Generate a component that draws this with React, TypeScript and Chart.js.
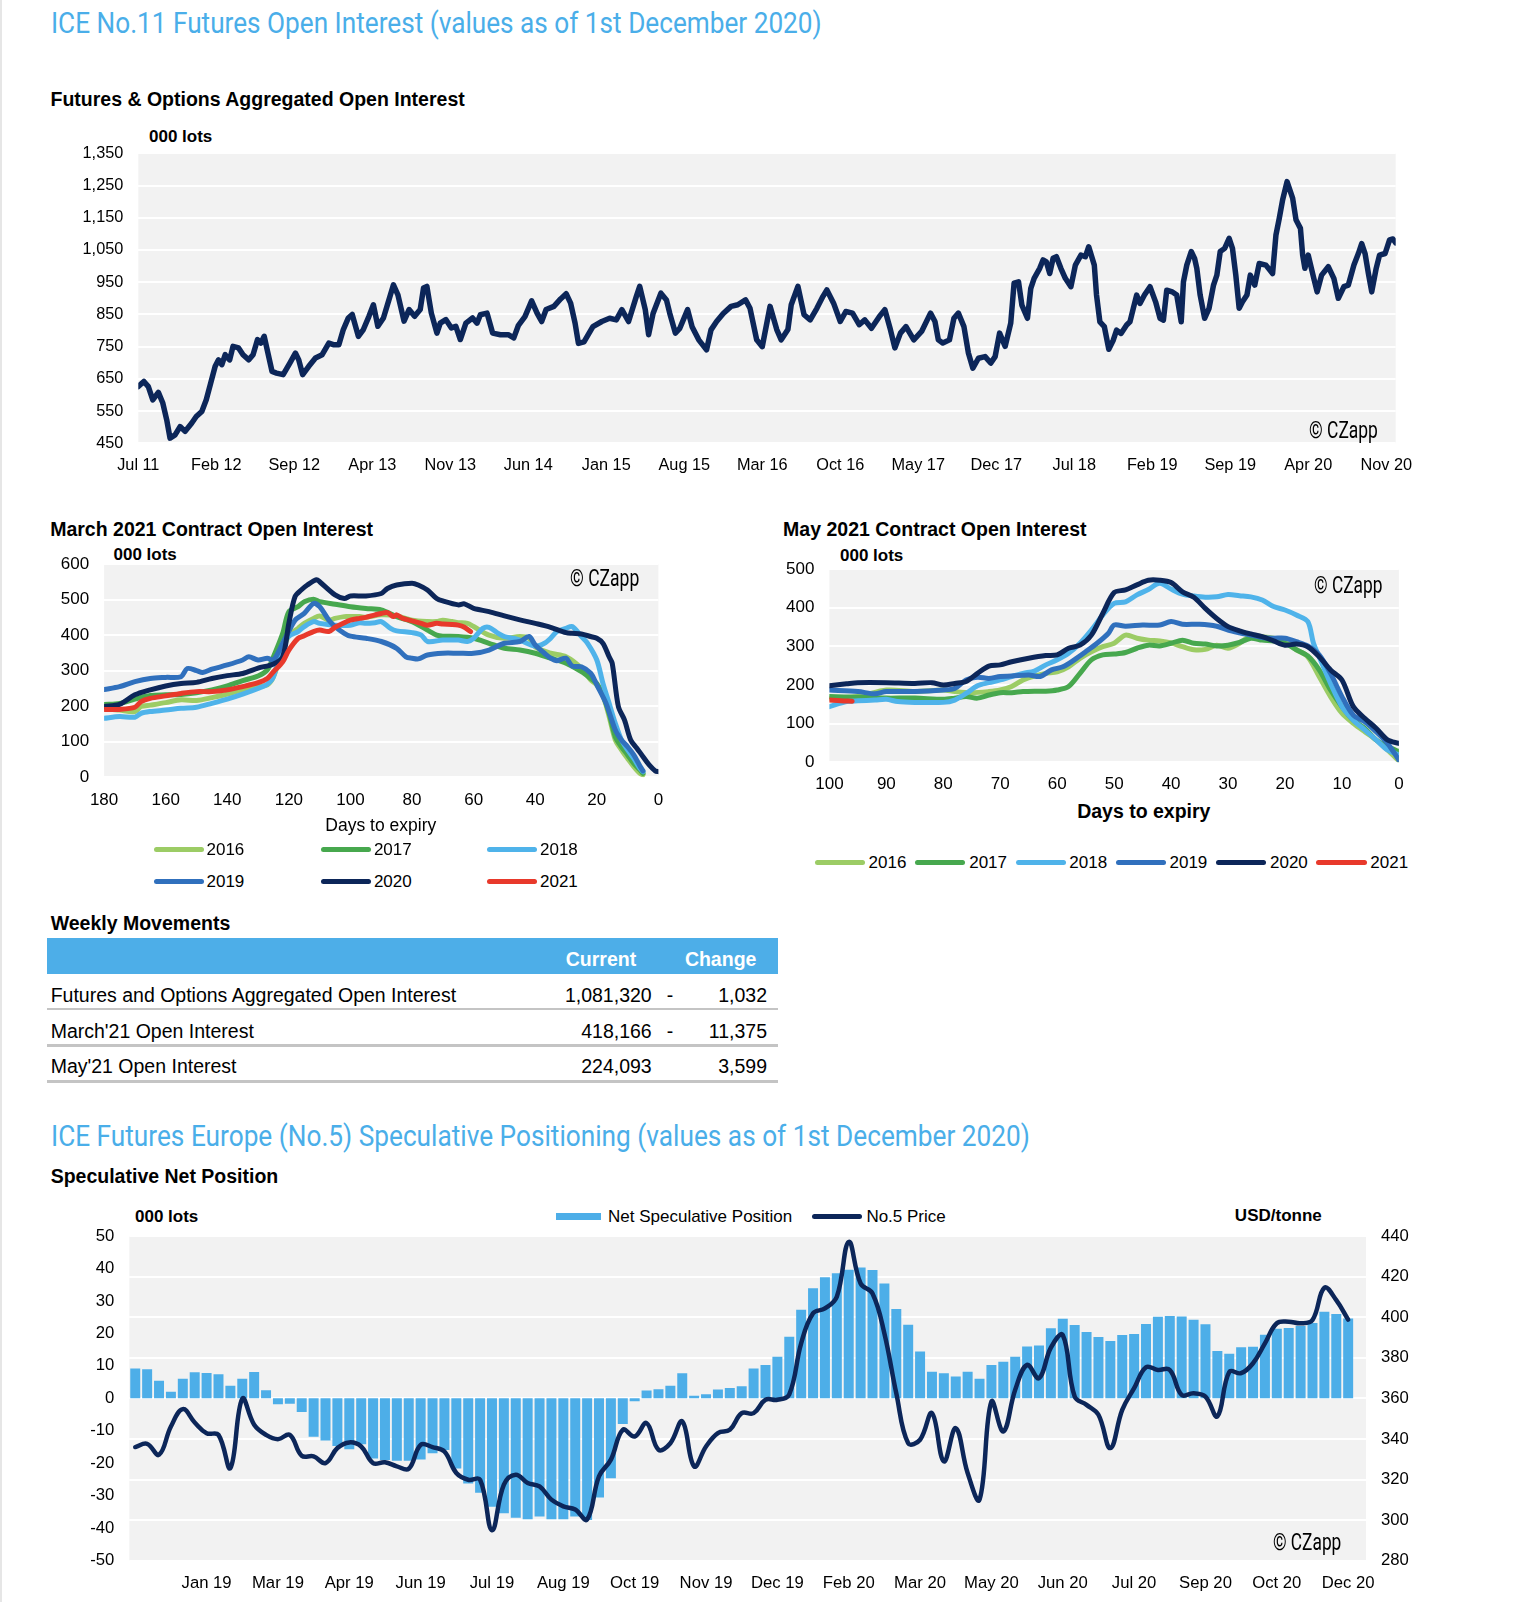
import React, { useEffect, useLayoutEffect, useRef, useState } from 'react';
import { Chart, registerables } from 'chart.js';

Chart.register(...registerables);

const FONT = '"Liberation Sans", Arial, Helvetica, sans-serif';
const COND = 'Roboto, "Liberation Sans", sans-serif';
const NAVY = '#0c2659';
const BAR_BLUE = '#4daee8';
const TITLE_BLUE = '#4aaee9';
const PLOT_BG = '#f2f2f2';

Chart.defaults.font.family = FONT;
Chart.defaults.color = '#000';

// ---------- Chart 1: Futures & Options Aggregated Open Interest ----------
const oiTickLabels = ['Jul 11', 'Feb 12', 'Sep 12', 'Apr 13', 'Nov 13', 'Jun 14', 'Jan 15', 'Aug 15', 'Mar 16', 'Oct 16', 'May 17', 'Dec 17', 'Jul 18', 'Feb 19', 'Sep 19', 'Apr 20', 'Nov 20'];
// months since Jul 2011
const oiMonths = [
  0, 0.5, 0.9, 1.3, 1.8, 2.2, 2.55, 2.85, 3.3, 3.75, 4.2, 4.8, 5.2, 5.7, 6.1, 6.5, 6.9, 7.2, 7.5, 7.8,
  8.2, 8.5, 9.0, 9.4, 9.9, 10.3, 10.7, 11.0, 11.3, 11.7, 12.0, 12.4, 13.0, 13.6, 14.1, 14.4, 14.75, 15.3, 15.9, 16.5,
  17.1, 17.5, 18.0, 18.4, 18.85, 19.2, 19.75, 20.2, 20.7, 21.1, 21.5, 22.0, 22.5, 22.9, 23.3, 23.85, 24.3, 24.8, 25.3, 25.6,
  25.9, 26.3, 26.8, 27.1, 27.6, 28.1, 28.5, 28.9, 29.4, 30.0, 30.4, 30.7, 31.3, 31.8, 32.5, 33.2, 33.7, 34.1, 34.7, 35.3,
  35.8, 36.2, 36.6, 37.3, 37.9, 38.4, 38.8, 39.2, 39.5, 40.0, 40.8, 41.6, 42.3, 42.9, 43.4, 44.0, 44.7, 45.0, 45.5, 45.8,
  46.2, 46.9, 47.4, 47.7, 48.2, 48.6, 49.3, 49.7, 50.3, 51.0, 51.4, 51.9, 52.5, 53.2, 53.8, 54.5, 54.9, 55.5, 56.0, 56.7,
  57.3, 57.7, 58.3, 58.6, 59.2, 59.75, 60.3, 60.9, 61.45, 61.8, 62.4, 63.0, 63.5, 64.1, 64.7, 65.2, 65.8, 66.5, 67.0, 67.5,
  67.9, 68.4, 68.9, 69.6, 70.3, 71.1, 71.5, 71.8, 72.2, 72.8, 73.2, 73.6, 74.1, 74.5, 74.9, 75.4, 76.0, 76.5, 76.9, 77.3,
  77.8, 78.3, 78.6, 79.0, 79.3, 79.8, 80.1, 80.4, 80.9, 81.2, 81.5, 81.8, 82.1, 82.4, 82.8, 83.2, 83.7, 84.1, 84.6, 85.0,
  85.3, 85.8, 86.0, 86.3, 86.7, 87.1, 87.5, 87.8, 88.2, 88.7, 89.0, 89.3, 89.6, 89.9, 90.3, 90.8, 91.3, 91.7, 92.0, 92.3,
  92.8, 93.2, 93.6, 93.8, 94.1, 94.5, 94.8, 95.0, 95.3, 95.7, 96.1, 96.5, 96.8, 97.1, 97.5, 97.9, 98.2, 98.5, 98.8, 99.1,
  99.5, 99.8, 100.2, 100.6, 101.2, 101.8, 102.1, 102.4, 102.7, 103.1, 103.6, 103.9, 104.3, 104.5, 104.7, 105.0, 105.5, 105.8, 106.2, 106.8,
  107.3, 107.7, 108.2, 108.6, 109.1, 109.5, 109.8, 110.1, 110.4, 110.7, 111.1, 111.4, 111.9, 112.3, 112.6, 112.85,
];
const oiValues = [
  626, 642, 626, 585, 608, 575, 523, 466, 476, 502, 487, 513, 533, 549, 585, 637, 689, 709, 694, 725,
  709, 751, 746, 725, 709, 725, 772, 761, 782, 720, 673, 668, 663, 699, 730, 709, 663, 689, 715, 725,
  761, 756, 756, 803, 839, 850, 782, 803, 844, 880, 813, 839, 896, 942, 911, 829, 865, 844, 865, 932,
  937, 854, 792, 823, 834, 808, 813, 772, 823, 839, 823, 849, 854, 792, 787, 787, 777, 815, 843, 892,
  853, 828, 865, 875, 898, 914, 885, 823, 760, 765, 812, 828, 838, 833, 865, 828, 906, 937, 865, 787,
  853, 916, 895, 853, 792, 807, 865, 812, 771, 740, 802, 828, 853, 875, 880, 895, 869, 771, 750, 875,
  803, 771, 803, 880, 937, 849, 833, 869, 906, 926, 885, 828, 859, 854, 818, 833, 807, 843, 865, 803,
  746, 792, 812, 771, 797, 854, 828, 771, 761, 771, 838, 854, 812, 730, 683, 714, 719, 699, 719, 792,
  751, 823, 947, 951, 879, 838, 931, 962, 993, 1019, 1013, 977, 1024, 1029, 993, 962, 936, 1003, 1034, 1029,
  1060, 1003, 910, 827, 812, 742, 770, 801, 791, 817, 827, 869, 910, 884, 910, 936, 889, 838, 832, 925,
  920, 910, 827, 951, 1003, 1045, 1024, 993, 910, 838, 869, 941, 972, 1045, 1055, 1086, 1055, 972, 869, 889,
  910, 972, 941, 1008, 1003, 977, 1096, 1148, 1205, 1262, 1211, 1144, 1117, 1034, 993, 1034, 962, 920, 972, 998,
  962, 900, 936, 941, 1003, 1039, 1070, 1039, 977, 920, 993, 1034, 1039, 1081, 1084, 1072,
];

// ---------- Chart 2: March 2021 contract (days to expiry, 000 lots) ----------
const march2016: number[][] = [[180,194],[175,189],[170,185],[168,199],[165,203],[160,210],[155,218],[150,216],[145,224],[140,234],[135,246],[130,255],[127,260],[125,283],[122,358],[120,399],[117,419],[115,433],[112,447],[110,454],[107,442],[105,447],[102,452],[100,452],[97,452],[95,450],[90,457],[85,454],[80,442],[75,438],[72,438],[70,442],[67,438],[65,435],[62,433],[60,424],[55,400],[50,391],[45,396],[42,391],[40,367],[35,349],[30,339],[25,307],[22,274],[20,260],[18,230],[16,171],[14,105],[12,77],[10,53],[8,30],[6,11],[5,7]];
const march2017: number[][] = [[180,205],[175,208],[170,220],[165,230],[160,232],[155,233],[150,238],[145,246],[140,257],[135,272],[130,285],[127,302],[125,339],[122,405],[120,466],[117,480],[115,494],[112,501],[110,494],[105,487],[100,480],[95,475],[90,471],[85,452],[80,438],[75,414],[72,400],[70,397],[65,396],[60,391],[55,377],[50,363],[45,358],[40,349],[35,335],[30,321],[25,297],[22,278],[20,264],[18,232],[16,180],[14,114],[12,86],[10,63],[8,39],[6,21],[5,11]];
const march2018: number[][] = [[180,166],[175,171],[170,169],[168,180],[165,185],[160,189],[155,194],[150,197],[145,208],[140,220],[135,234],[130,250],[127,262],[125,283],[122,377],[120,397],[117,410],[115,424],[112,438],[110,433],[105,428],[100,428],[97,435],[95,433],[92,435],[90,438],[87,419],[85,412],[80,407],[77,400],[75,382],[70,386],[65,386],[62,382],[60,391],[57,419],[55,422],[52,405],[50,396],[47,391],[45,386],[40,369],[37,377],[35,391],[33,410],[30,419],[28,424],[25,396],[23,377],[20,330],[18,264],[16,208],[14,152],[12,105],[10,77],[8,53],[6,25],[5,16]];
const march2019: number[][] = [[180,247],[175,255],[170,269],[165,278],[160,281],[155,283],[153,306],[150,300],[148,295],[145,304],[140,316],[135,330],[133,339],[130,330],[127,335],[125,330],[122,377],[118,442],[115,461],[112,489],[110,480],[107,442],[105,424],[102,405],[100,397],[95,391],[90,382],[85,363],[82,339],[80,335],[78,333],[75,344],[70,349],[65,349],[60,349],[55,358],[50,377],[45,382],[42,396],[40,372],[37,349],[35,335],[33,328],[30,335],[28,313],[25,311],[22,293],[20,260],[17,208],[14,133],[12,105],[10,86],[8,63],[6,32],[5,18]];
const march2020: number[][] = [[180,199],[175,205],[170,232],[165,246],[160,257],[155,264],[150,267],[145,278],[140,286],[135,292],[130,307],[125,319],[122,339],[120,433],[118,508],[116,527],[114,541],[111,556],[110,550],[105,513],[102,503],[100,510],[95,510],[90,517],[88,531],[85,541],[80,546],[78,541],[75,527],[72,503],[70,496],[65,485],[63,488],[60,475],[55,466],[50,454],[45,443],[40,433],[35,422],[30,407],[28,405],[25,403],[22,396],[20,391],[18,377],[16,339],[15,321],[13,199],[11,161],[9,105],[7,82],[5,58],[3,35],[1,18],[0,16]];
const march2021: number[][] = [[180,191],[175,191],[170,197],[168,213],[165,222],[160,229],[155,236],[150,241],[145,241],[140,246],[135,255],[130,266],[127,278],[125,297],[122,325],[120,358],[117,391],[115,398],[112,410],[110,414],[107,410],[105,422],[102,435],[100,442],[97,447],[95,450],[92,457],[90,461],[88,463],[86,452],[85,457],[83,447],[80,440],[77,433],[75,428],[72,433],[70,431],[67,430],[65,428],[63,422],[61,410]];

// ---------- Chart 3: May 2021 contract ----------
const may2016: number[][] = [[100,166],[95,170],[90,187],[85,183],[80,187],[78,183],[75,180],[72,183],[70,187],[68,196],[66,213],[64,223],[62,230],[60,234],[58,247],[56,269],[54,286],[52,299],[50,308],[48,329],[46,321],[44,316],[42,314],[40,309],[38,299],[36,291],[34,292],[32,303],[30,295],[28,308],[26,327],[24,325],[22,321],[20,312],[18,291],[16,273],[14,222],[12,170],[10,127],[8,101],[6,79],[4,58],[2,32],[0,4]];
const may2017: number[][] = [[100,170],[95,168],[90,166],[85,166],[80,163],[78,166],[76,170],[74,166],[72,174],[70,180],[68,180],[66,183],[64,184],[62,184],[60,187],[58,196],[56,230],[54,265],[52,278],[50,280],[48,284],[46,295],[44,303],[42,301],[40,308],[38,316],[36,308],[34,306],[32,301],[30,303],[28,310],[26,321],[24,316],[22,314],[20,308],[18,291],[16,275],[14,239],[12,187],[10,144],[8,109],[6,88],[4,58],[2,41],[0,28]];
const may2018: number[][] = [[100,144],[97,157],[95,159],[92,161],[90,163],[88,157],[85,155],[80,155],[78,161],[76,178],[74,198],[72,206],[70,213],[68,222],[66,230],[64,236],[62,252],[60,265],[58,282],[56,308],[54,342],[52,381],[50,411],[48,415],[46,433],[44,447],[42,463],[40,448],[38,435],[36,430],[34,427],[32,428],[30,434],[28,431],[26,428],[24,420],[22,403],[20,394],[18,381],[16,364],[15,308],[14,273],[12,204],[10,144],[8,109],[6,84],[4,58],[2,32],[0,19]];
const may2019: number[][] = [[100,187],[95,183],[92,177],[90,183],[85,183],[80,187],[78,191],[76,213],[74,220],[72,217],[70,222],[68,223],[65,226],[63,222],[61,239],[59,247],[57,265],[55,286],[53,308],[51,334],[50,355],[48,352],[45,355],[42,355],[40,364],[38,357],[35,357],[32,352],[30,342],[28,335],[26,329],[24,323],[22,321],[20,321],[18,312],[16,301],[14,278],[12,230],[10,170],[8,122],[6,105],[4,79],[2,49],[0,6]];
const may2020: number[][] = [[100,198],[97,203],[95,206],[90,206],[85,204],[82,206],[80,200],[78,204],[76,209],[74,230],[72,249],[70,252],[68,260],[65,269],[62,276],[60,278],[58,295],[56,303],[54,329],[52,385],[50,439],[48,446],[46,459],[44,471],[42,471],[40,465],[38,441],[36,427],[34,398],[32,372],[30,351],[28,340],[26,332],[24,325],[22,314],[20,303],[18,306],[16,299],[14,273],[12,239],[10,213],[8,144],[6,114],[4,88],[2,58],[0,49]];
const may2021: number[][] = [[100,161],[98,159],[96,158]];

// ---------- Weekly movements table ----------
const weeklyLabels = ['Futures and Options Aggregated Open Interest', "March'21 Open Interest", "May'21 Open Interest"];
const weeklyCurrent = ['1,081,320', '418,166', '224,093'];
const weeklySign = ['-', '-', ''];
const weeklyChange = ['1,032', '11,375', '3,599'];

// ---------- Chart 4: ICE No.5 speculative positioning (weekly) ----------
const specTicks: [number, string][] = [[6, 'Jan 19'], [12, 'Mar 19'], [18, 'Apr 19'], [24, 'Jun 19'], [30, 'Jul 19'], [36, 'Aug 19'], [42, 'Oct 19'], [48, 'Nov 19'], [54, 'Dec 19'], [60, 'Feb 20'], [66, 'Mar 20'], [72, 'May 20'], [78, 'Jun 20'], [84, 'Jul 20'], [90, 'Sep 20'], [96, 'Oct 20'], [102, 'Dec 20']];
const netSpec = [
  9.2, 9.0, 5.4, 2.0, 6.0, 8.0, 7.8, 7.4, 3.9, 6.0, 8.1, 2.5, -1.8, -1.7, -4.2, -11.8, -13.0, -14.7, -15.7, -14.1,
  -18.5, -19.0, -19.2, -19.2, -18.8, -16.9, -15.9, -21.6, -26.2, -29.1, -33.4, -35.4, -36.8, -37.2, -36.4, -37.2, -37.2, -36.4, -37.5, -30.5,
  -24.6, -7.9, -0.9, 2.4, 2.8, 3.9, 7.7, 0.8, 1.3, 2.7, 3.2, 3.7, 9.2, 10.3, 12.8, 19.0, 27.3, 33.9, 37.3, 38.5,
  39.6, 40.3, 39.5, 35.4, 27.5, 22.7, 14.4, 8.2, 7.7, 6.7, 8.2, 6.0, 10.3, 11.3, 12.8, 16.0, 16.3, 21.6, 24.5, 22.6,
  20.4, 18.9, 17.7, 19.5, 19.8, 22.9, 25.1, 25.4, 25.2, 24.2, 22.8, 14.6, 13.7, 15.7, 15.9, 19.6, 21.4, 21.7, 22.3, 23.2,
  26.7, 26.0, 24.6, null,
];
const no5Price = [
  336.0, 337.6, 332.2, 346.1, 354.7, 348.1, 342.8, 342.0, 325.7, 359.8, 347.0, 342.0, 339.9, 342.0, 331.7, 331.4, 328.1, 335.5, 338.3, 336.3,
  328.1, 328.5, 326.5, 325.3, 337.1, 336.0, 333.8, 323.2, 319.9, 319.9, 295.0, 317.5, 322.4, 318.3, 316.6, 310.1, 306.8, 305.2, 300.3, 321.6,
  329.8, 344.5, 341.2, 347.8, 334.7, 337.9, 348.6, 326.5, 336.3, 342.9, 344.5, 352.7, 352.7, 359.3, 359.3, 362.0, 387.1, 401.9, 404.3, 410.1,
  437.1, 416.6, 411.7, 392.0, 362.5, 337.9, 339.6, 352.7, 328.9, 345.3, 323.2, 310.1, 358.4, 343.7, 364.2, 376.5, 369.9, 385.0, 391.2, 360.9,
  356.8, 351.9, 335.5, 354.3, 365.0, 375.3, 374.0, 374.0, 361.7, 362.5, 360.9, 351.1, 373.0, 372.4, 377.3, 387.1, 397.0, 397.8, 397.0, 398.6,
  414.5, 408.4, 398.8, null,
];

const SERIES_COLORS: Record<string, string> = {
  '2016': '#9ccc65',
  '2017': '#47a84e',
  '2018': '#4fb3ea',
  '2019': '#3070bd',
  '2020': NAVY,
  '2021': '#e8392b',
};

const bgPlugin = {
  id: 'plotBg',
  beforeDraw(chart: any) {
    const { ctx, chartArea: a } = chart;
    ctx.save();
    ctx.fillStyle = PLOT_BG;
    ctx.fillRect(a.left, a.top, a.right - a.left, a.bottom - a.top);
    ctx.restore();
  },
};

function ChartBox({ left, top, width, height, make }: { left: number; top: number; width: number; height: number; make: () => any }) {
  const ref = useRef<HTMLCanvasElement>(null);
  useEffect(() => {
    const chart = new Chart(ref.current as HTMLCanvasElement, make());
    return () => chart.destroy();
  }, []);
  return (
    <div style={{ position: 'absolute', left, top, width, height }}>
      <canvas ref={ref} width={width} height={height} style={{ width, height, display: 'block' }} />
    </div>
  );
}

function Txt({ x, cy, size, bold, color = '#000', align = 'left', children }: any) {
  const tx = align === 'left' ? '0' : align === 'right' ? '-100%' : '-50%';
  return (
    <div style={{ position: 'absolute', left: x, top: cy - size * 0.5, fontFamily: FONT, fontSize: size, fontWeight: bold ? 700 : 400, color, lineHeight: `${size}px`, whiteSpace: 'nowrap', transform: `translateX(${tx})` }}>
      {children}
    </div>
  );
}

function Squeeze({ x, baseline, size, width, color = '#000', anchor = 'left', children }: any) {
  const ref = useRef<HTMLDivElement>(null);
  const [s, setS] = useState(1);
  useLayoutEffect(() => {
    const w = ref.current ? ref.current.offsetWidth : 0;
    if (w) setS(width / w);
  }, []);
  const left = anchor === 'right' ? x - width : x;
  return (
    <div ref={ref} style={{ position: 'absolute', left, top: baseline - 0.842 * size, fontFamily: COND, fontSize: size, color, lineHeight: `${size}px`, whiteSpace: 'nowrap', transform: `scaleX(${s})`, transformOrigin: 'left center' }}>
      {children}
    </div>
  );
}

function Swatch({ x, cy, w, h = 5, color, round = true }: any) {
  return <div style={{ position: 'absolute', left: x, top: cy - h / 2, width: w, height: h, background: color, borderRadius: round ? h / 2 : 0 }} />;
}

const gridWhite = { color: '#ffffff', lineWidth: 2, drawTicks: false };
const noGrid = { display: false, drawTicks: false };
const fitY = (w: number) => (s: any) => { s.width = w; s.paddingTop = 0; s.paddingBottom = 0; };
const fitX = (h: number) => (s: any) => { s.height = h; s.paddingLeft = 0; s.paddingRight = 0; };

function makeOiChart() {
  return {
    type: 'line',
    data: {
      datasets: [{
        data: oiMonths.map((m, i) => ({ x: m, y: oiValues[i] })),
        borderColor: NAVY, borderWidth: 5.5, pointRadius: 0, tension: 0, borderJoinStyle: 'round', borderCapStyle: 'round',
      }],
    },
    options: {
      animation: false, responsive: false,
      layout: { padding: { top: 13.3, right: 44.3, left: 0, bottom: 0 } },
      plugins: { legend: { display: false }, tooltip: { enabled: false } },
      scales: {
        x: {
          type: 'linear', min: 0, max: 112.85,
          grid: noGrid, border: { display: false },
          afterBuildTicks: (axis: any) => { axis.ticks = oiTickLabels.map((_, i) => ({ value: i * 7 })); },
          ticks: { autoSkip: false, maxRotation: 0, padding: 12, font: { size: 16.3 }, color: '#000', callback: (_v: any, i: number) => oiTickLabels[i] },
          afterFit: fitX(36.7),
        },
        y: {
          min: 450, max: 1350,
          grid: gridWhite, border: { display: false },
          ticks: { stepSize: 100, padding: 15, font: { size: 16.3 }, color: '#000', callback: (v: number) => v.toLocaleString('en-US') },
          afterFit: fitY(98.3),
        },
      },
    },
    plugins: [bgPlugin],
  };
}

function expiryChart(series: [string, number[][]][], maxDay: number, step: number, maxY: number, pad: any, yW: number, xH: number, tickPad: number) {
  const order: Record<string, number> = { '2021': 0, '2020': 1, '2019': 2, '2018': 3, '2017': 4, '2016': 5 };
  return {
    type: 'line',
    data: {
      datasets: series.map(([name, pts]) => ({
        label: name,
        data: pts.map(([d, v]) => ({ x: d, y: v })),
        borderColor: SERIES_COLORS[name], borderWidth: 5, pointRadius: 0, tension: 0.3,
        borderJoinStyle: 'round', borderCapStyle: 'round', order: order[name],
      })),
    },
    options: {
      animation: false, responsive: false,
      layout: { padding: pad },
      plugins: { legend: { display: false }, tooltip: { enabled: false } },
      scales: {
        x: {
          type: 'linear', min: 0, max: maxDay, reverse: true,
          grid: noGrid, border: { display: false },
          ticks: { stepSize: step, maxRotation: 0, padding: tickPad, font: { size: 17 }, color: '#000' },
          afterFit: fitX(xH),
        },
        y: {
          min: 0, max: maxY,
          grid: gridWhite, border: { display: false },
          ticks: { stepSize: 100, padding: 15, font: { size: 17 }, color: '#000' },
          afterFit: fitY(yW),
        },
      },
    },
    plugins: [bgPlugin],
  };
}

function makeSpecChart() {
  const labels = netSpec.map((_, i) => String(i));
  const tickMap = new Map(specTicks);
  return {
    type: 'bar',
    data: {
      labels,
      datasets: [
        { type: 'line', label: 'No.5 Price', data: no5Price, yAxisID: 'y1', borderColor: NAVY, borderWidth: 4.5, pointRadius: 0, tension: 0.4, order: 0, borderJoinStyle: 'round', borderCapStyle: 'round' },
        { type: 'bar', label: 'Net Speculative Position', data: netSpec, yAxisID: 'y', backgroundColor: BAR_BLUE, barPercentage: 0.84, categoryPercentage: 1, order: 1 },
      ],
    },
    options: {
      animation: false, responsive: false,
      layout: { padding: { top: 11, right: 0, left: 0, bottom: 0 } },
      plugins: { legend: { display: false }, tooltip: { enabled: false } },
      scales: {
        x: {
          grid: noGrid, border: { display: false },
          ticks: { autoSkip: false, maxRotation: 0, minRotation: 0, padding: 12.6, font: { size: 16.7 }, color: '#000', callback: (_v: any, i: number) => tickMap.get(i) || '' },
          afterFit: fitX(41.3),
        },
        y: {
          position: 'left', min: -50, max: 50,
          grid: { display: false, drawTicks: false }, border: { display: false },
          ticks: { stepSize: 10, padding: 15, font: { size: 16.7 }, color: '#000' },
          afterFit: fitY(89.3),
        },
        y1: {
          position: 'right', min: 280, max: 440,
          grid: gridWhite, border: { display: false },
          ticks: { stepSize: 20, padding: 15, font: { size: 16.7 }, color: '#000' },
          afterFit: fitY(74),
        },
      },
    },
    plugins: [bgPlugin],
  };
}

const marchSeries: [string, number[][]][] = [['2016', march2016], ['2017', march2017], ['2018', march2018], ['2019', march2019], ['2020', march2020], ['2021', march2021]];
const maySeries: [string, number[][]][] = [['2016', may2016], ['2017', may2017], ['2018', may2018], ['2019', may2019], ['2020', may2020], ['2021', may2021]];

export default function App() {
  const years = ['2016', '2017', '2018', '2019', '2020', '2021'];
  const mLegX = [153.5, 320.8, 487];
  const mLegTx = [206.5, 373.9, 540];
  const yLegX = [814.7, 914.9, 1015.5, 1115.6, 1215.8, 1316.4];
  const yLegTx = [868.6, 969.2, 1069.3, 1169.5, 1270, 1370.3];
  const rowCy = [995.7, 1031.7, 1066.7];
  const sepY = [1009, 1045.7, 1081.7];
  return (
    <div style={{ position: 'absolute', left: 0, top: 0, width: 1540, height: 1602, background: '#fff', overflow: 'hidden', fontFamily: FONT }}>
      <div style={{ position: 'absolute', left: 0, top: 0, width: 2, height: 1602, background: '#e6e6e6' }} />

      <Squeeze x={50.5} baseline={33.3} size={30} width={770.5} color={TITLE_BLUE}>ICE No.11 Futures Open Interest (values as of 1st December 2020)</Squeeze>
      <Txt x={50.5} cy={100} size={19.5} bold>Futures &amp; Options Aggregated Open Interest</Txt>
      <Txt x={149} cy={136.7} size={17} bold>000 lots</Txt>
      <ChartBox left={40} top={140} width={1400} height={340} make={makeOiChart} />
      <Squeeze x={1378.3} baseline={438.3} size={23} width={69} anchor="right">© CZapp</Squeeze>

      <Txt x={50.2} cy={529.3} size={19.5} bold>March 2021 Contract Open Interest</Txt>
      <Txt x={113.5} cy={554.3} size={17} bold>000 lots</Txt>
      <ChartBox left={40} top={545} width={640} height={275} make={() => expiryChart(marchSeries, 180, 20, 600, { top: 19, right: 21.6, left: 0, bottom: 0 }, 64.1, 42.7, 13.2)} />
      <Squeeze x={639.2} baseline={586.7} size={23} width={69.4} anchor="right">© CZapp</Squeeze>
      <Txt x={380.8} cy={826} size={17.5} align="center">Days to expiry</Txt>
      {years.map((y, i) => {
        const col = i % 3;
        const cy = i < 3 ? 849.3 : 881.7;
        return (
          <React.Fragment key={'m' + y}>
            <Swatch x={mLegX[col]} cy={cy} w={50} color={SERIES_COLORS[y]} />
            <Txt x={mLegTx[col]} cy={cy} size={17}>{y}</Txt>
          </React.Fragment>
        );
      })}

      <Txt x={783.1} cy={529.3} size={19.5} bold>May 2021 Contract Open Interest</Txt>
      <Txt x={840} cy={555} size={17} bold>000 lots</Txt>
      <ChartBox left={760} top={550} width={680} height={250} make={() => expiryChart(maySeries, 100, 10, 500, { top: 19, right: 41.1, left: 0, bottom: 0 }, 69.4, 37.7, 11.5)} />
      <Squeeze x={1382} baseline={593.3} size={23} width={68.5} anchor="right">© CZapp</Squeeze>
      <Txt x={1143.8} cy={811.7} size={19.5} bold align="center">Days to expiry</Txt>
      {years.map((y, i) => (
        <React.Fragment key={'y' + y}>
          <Swatch x={yLegX[i]} cy={862.7} w={50.5} color={SERIES_COLORS[y]} />
          <Txt x={yLegTx[i]} cy={862.7} size={17}>{y}</Txt>
        </React.Fragment>
      ))}

      <Txt x={50.7} cy={924} size={19.5} bold>Weekly Movements</Txt>
      <div style={{ position: 'absolute', left: 47.3, top: 938.3, width: 730.5, height: 35.7, background: BAR_BLUE }} />
      <Txt x={636.2} cy={959.3} size={19.5} bold color="#fff" align="right">Current</Txt>
      <Txt x={756.4} cy={959.3} size={19.5} bold color="#fff" align="right">Change</Txt>
      {weeklyLabels.map((lab, i) => (
        <React.Fragment key={lab}>
          <Txt x={50.7} cy={rowCy[i]} size={19.5}>{lab}</Txt>
          <Txt x={651.7} cy={rowCy[i]} size={19.5} align="right">{weeklyCurrent[i]}</Txt>
          {weeklySign[i] ? <Txt x={670} cy={rowCy[i]} size={19.5} align="center">{weeklySign[i]}</Txt> : null}
          <Txt x={767} cy={rowCy[i]} size={19.5} align="right">{weeklyChange[i]}</Txt>
          <div style={{ position: 'absolute', left: 47.3, top: sepY[i] - 1.25, width: 730.5, height: 2.5, background: '#c4c4c4' }} />
        </React.Fragment>
      ))}

      <Squeeze x={50.7} baseline={1146.7} size={30} width={979} color={TITLE_BLUE}>ICE Futures Europe (No.5) Speculative Positioning (values as of 1st December 2020)</Squeeze>
      <Txt x={50.7} cy={1176.7} size={19.5} bold>Speculative Net Position</Txt>
      <Txt x={135} cy={1216.7} size={17} bold>000 lots</Txt>
      <Swatch x={556} cy={1216} w={45} h={7} color={BAR_BLUE} round={false} />
      <Txt x={608} cy={1216} size={17}>Net Speculative Position</Txt>
      <Swatch x={811.7} cy={1216} w={50} h={5} color={NAVY} />
      <Txt x={866.4} cy={1216} size={17}>No.5 Price</Txt>
      <Txt x={1278.3} cy={1215} size={17} bold align="center">USD/tonne</Txt>
      <ChartBox left={40} top={1225} width={1400} height={377} make={makeSpecChart} />
      <Squeeze x={1341.7} baseline={1550.7} size={23} width={68.4} anchor="right">© CZapp</Squeeze>
    </div>
  );
}
